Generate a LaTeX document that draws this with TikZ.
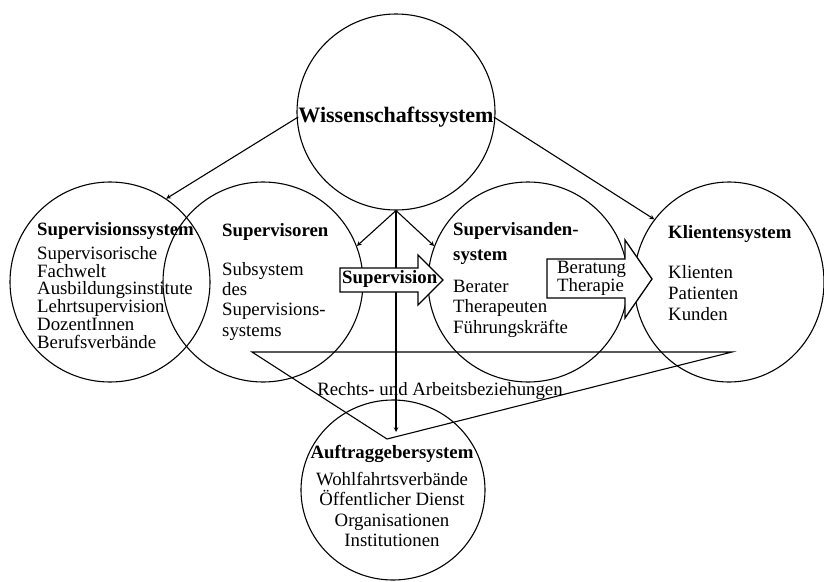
\documentclass[tikz,border=0pt]{standalone}
\usepackage{fontspec}
\setmainfont{Liberation Serif}
\usetikzlibrary{
    shapes.geometric,
    positioning,
}
\tikzstyle{system} = [ellipse, draw, line width=1.1pt, inner sep=0pt]
\tikzstyle{txt} = [inner sep=0pt, align=left, anchor=north west]
\tikzstyle{line} = [draw, line width=1.1pt]
\tikzstyle{bigarrow} = [draw, fill=white, line width=1.3pt, line join=miter]

\begin{document}
\begin{tikzpicture}[x=1pt, y=-1pt, node distance=100pt, >=stealth]
        \useasboundingbox (0,0) rectangle (824,581);
        % Place systems
        \node [system, minimum width=198pt, minimum height=196pt] (wiss) at (396,112) {};
        \node [system, minimum size=200pt] (sys) at (110,282) {};
        \node [system, minimum size=200pt, right of=sys, node distance=153pt] (svor) {};
        \node [system, minimum size=200pt, right of=svor, node distance=265pt] (svand) {};
        \node [system, minimum width=190pt, minimum height=200pt, right of=svand, node distance=201pt] (klient) {};
        \node [system, minimum width=184pt, minimum height=180pt] (auf) at (393,490) {};
        % Rechts- und Arbeitsbeziehungen
        \coordinate (rab-l) at (252,352);
        \coordinate (rab-r) at (732,352);
        \coordinate (rab-b) at (387,439);
        \path [line] (rab-l) -- (rab-r) -- (rab-b) -- cycle;
        \node [inner sep=0pt, anchor=base, font=\fontsize{18.8}{20}\selectfont] (rab) at (440,395) {Rechts- und Arbeitsbeziehungen};
        % Texts
        \node [inner sep=0pt, font=\fontsize{22}{24}\selectfont\bfseries] (wiss-txt) at (396,117) {Wissenschaftssystem};
        \node [txt, font=\fontsize{18.8}{17.8}\selectfont] (sys-txt) at (37,222)
            {\textbf{Supervisionssystem}\\[6.2pt]Supervisorische\\Fachwelt\\Ausbildungsinstitute\\Lehrtsupervision\\DozentInnen\\Berufsverbände};
        \node [txt, font=\fontsize{18.8}{20.3}\selectfont] (svor-txt) at (222,223)
            {\textbf{Supervisoren}\\[18.7pt]Subsystem\\des\\Supervisions-\\systems};
        \node [txt, font=\fontsize{18.8}{20.5}\selectfont] (svand-txt) at (453,222)
            {\textbf{Supervisanden-}\\[4.5pt]\textbf{system}\\[11.5pt]Berater\\Therapeuten\\Führungskräfte};
        \node [txt, font=\fontsize{18.8}{21}\selectfont] (klient-txt) at (668,225)
            {\textbf{Klientensystem}\\[19pt]Klienten\\Patienten\\Kunden};
        \node [txt, align=center, anchor=north, font=\fontsize{18.8}{20.5}\selectfont] (auf-txt) at (392,445)
            {\textbf{Auftraggebersystem}\\[6.5pt]Wohlfahrtsverbände\\Öffentlicher Dienst\\Organisationen\\Institutionen};
        % Draw edges
        \coordinate (auf-in) at (396,432);
        \path [->, line] (wiss-txt.west) -- (sys.56);
        \path [->, line] (wiss-txt.east) -- (klient.140);
        \path [->, line] (wiss.south) -- (svor.21);
        \path [->, line] (wiss.south) -- (svand.159);
        \path [->, line] (wiss.south) -- (auf-in);
        % Block arrows
        \draw [bigarrow] (340,268) -- (418,268) -- (418,255) -- (443,280) -- (418,305) -- (418,292) -- (340,292) -- cycle;
        \node [inner sep=0pt, anchor=base west, font=\fontsize{18.8}{20}\selectfont\bfseries] (supv) at (342,283) {Supervision};
        \draw [bigarrow] (547,259) -- (625,259) -- (625,240) -- (652,279) -- (625,318) -- (625,298) -- (547,298) -- cycle;
        \node [txt, font=\fontsize{18.8}{18}\selectfont] (berat) at (557,261) {Beratung\\Therapie};
    \end{tikzpicture}
\end{document}
